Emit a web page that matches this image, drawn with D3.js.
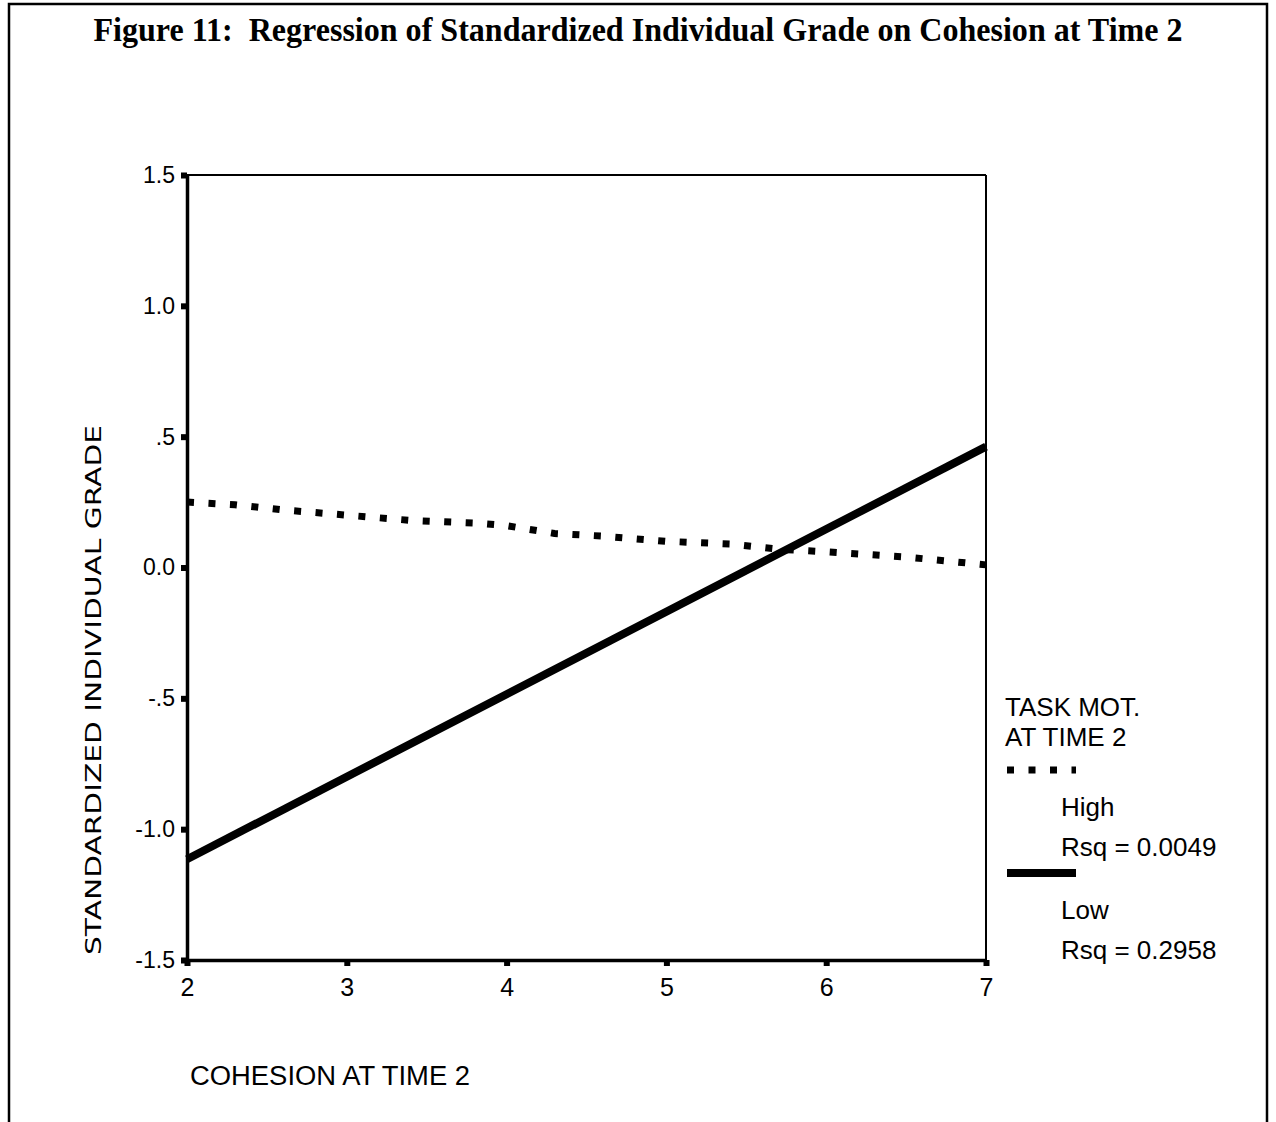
<!doctype html>
<html lang="en">
<head>
    <meta charset="UTF-8">
    <title>Figure 11</title>
    <style>
        body { margin: 0; background: #fff; }
        text { font-family: "Liberation Sans", Arial, sans-serif; fill: #000; }
    </style>
</head>
<body>
<script src="https://cdn.jsdelivr.net/npm/d3@7"></script>
<script>

    // data
    const xTicks = [2, 3, 4, 5, 6, 7]
    const yTicks = [1.5, 1.0, 0.5, 0.0, -0.5, -1.0, -1.5]
    const yTickLabels = ['1.5', '1.0', '.5', '0.0', '-.5', '-1.0', '-1.5']

    // High task motivation (dotted)
    const highX = [2, 2.3, 2.6, 3, 3.4, 3.8, 4, 4.3, 4.6, 5, 5.4, 5.7, 6, 6.5, 7]
    const highY = [0.25, 0.24, 0.22, 0.2, 0.18, 0.17, 0.16, 0.13, 0.12, 0.1, 0.09, 0.07, 0.06, 0.04, 0.01]

    // Low task motivation (solid)
    const lowX = [2, 7]
    const lowY = [-1.115, 0.462]

    const legendTitle = ['TASK MOT.', 'AT TIME 2']
    const legendItems = [
        {name: 'High', rsq: 'Rsq = 0.0049', dotted: true},
        {name: 'Low', rsq: 'Rsq = 0.2958', dotted: false}
    ]

    const W = 1276, H = 1122
    const plot = {left: 187, right: 986, top: 175, bottom: 960}

    const svg = d3.select('body')
        .append('svg')
        .attr('width', W)
        .attr('height', H)

    // outer frame (open at the bottom)
    svg.append('path')
        .attr('d', `M9,${H} L9,4 L1267,4 L1267,${H}`)
        .attr('fill', 'none')
        .attr('stroke', '#000')
        .attr('stroke-width', 2.5)

    svg.append('text')
        .attr('x', 638)
        .attr('y', 41)
        .attr('text-anchor', 'middle')
        .attr('textLength', 1089)
        .attr('lengthAdjust', 'spacingAndGlyphs')
        .attr('xml:space', 'preserve')
        .style('font-family', '"Liberation Serif", "Times New Roman", serif')
        .style('font-weight', 'bold')
        .style('font-size', '33px')
        .text('Figure 11:  Regression of Standardized Individual Grade on Cohesion at Time 2')

    const x = d3.scaleLinear().domain([2, 7]).range([plot.left, plot.right])
    const y = d3.scaleLinear().domain([-1.5, 1.5]).range([plot.bottom, plot.top])

    // plot frame: top/right thin, left/bottom thick
    svg.append('line')
        .attr('x1', plot.left).attr('x2', plot.right)
        .attr('y1', plot.top).attr('y2', plot.top)
        .attr('stroke', '#000').attr('stroke-width', 2)
    svg.append('line')
        .attr('x1', plot.right).attr('x2', plot.right)
        .attr('y1', plot.top).attr('y2', plot.bottom)
        .attr('stroke', '#000').attr('stroke-width', 2)

    // y axis
    const yAxis = svg.append('g')
        .attr('transform', `translate(${plot.left},0)`)
        .call(d3.axisLeft(y).tickValues(yTicks).tickSize(0).tickPadding(12)
            .tickFormat((d, i) => yTickLabels[i]))
    yAxis.select('.domain').attr('stroke-width', 3.5)
    yAxis.selectAll('text')
        .style('font-family', '"Liberation Sans", Arial, sans-serif')
        .style('font-size', '23px')
    yAxis.selectAll('.tick').append('rect')
        .attr('x', -6).attr('y', -3).attr('width', 6).attr('height', 6)
        .attr('fill', '#000')

    // x axis
    const xAxis = svg.append('g')
        .attr('transform', `translate(0,${plot.bottom})`)
        .call(d3.axisBottom(x).tickValues(xTicks).tickSize(0).tickPadding(18)
            .tickFormat(d3.format('d')))
    xAxis.select('.domain').attr('stroke-width', 3.5)
    xAxis.selectAll('text')
        .style('font-family', '"Liberation Sans", Arial, sans-serif')
        .style('font-size', '25px')
    xAxis.selectAll('.tick').append('rect')
        .attr('x', -3).attr('y', 0).attr('width', 6).attr('height', 6)
        .attr('fill', '#000')

    // axis titles
    svg.append('text')
        .attr('transform', `translate(101,${(425 + 955) / 2}) rotate(-90)`)
        .attr('text-anchor', 'middle')
        .attr('textLength', 530)
        .attr('lengthAdjust', 'spacingAndGlyphs')
        .style('font-family', '"DejaVu Sans", sans-serif')
        .style('font-size', '21px')
        .text('STANDARDIZED INDIVIDUAL GRADE')

    svg.append('text')
        .attr('x', 190)
        .attr('y', 1085)
        .attr('textLength', 280)
        .attr('lengthAdjust', 'spacingAndGlyphs')
        .style('font-size', '27px')
        .text('COHESION AT TIME 2')

    const lineGen = d3.line().x(d => x(d[0])).y(d => y(d[1]))

    svg.append('path')
        .datum(d3.zip(highX, highY))
        .attr('d', lineGen)
        .attr('fill', 'none')
        .attr('stroke', '#000')
        .attr('stroke-width', 7)
        .attr('stroke-dasharray', '7,14.5')

    svg.append('path')
        .datum(d3.zip(lowX, lowY))
        .attr('d', lineGen)
        .attr('fill', 'none')
        .attr('stroke', '#000')
        .attr('stroke-width', 8)

    // legend
    const lg = svg.append('g')
    legendTitle.forEach((t, i) => {
        lg.append('text')
            .attr('x', 1005)
            .attr('y', 716 + i * 30)
            .style('font-size', '26px')
            .text(t)
    })
    legendItems.forEach((d, i) => {
        const y0 = 770 + i * 103
        lg.append('line')
            .attr('x1', 1007).attr('x2', 1076)
            .attr('y1', y0).attr('y2', y0)
            .attr('stroke', '#000')
            .attr('stroke-width', d.dotted ? 7 : 8)
            .attr('stroke-dasharray', d.dotted ? '7,14.5' : null)
        lg.append('text')
            .attr('x', 1061).attr('y', y0 + 46)
            .style('font-size', '26px')
            .text(d.name)
        lg.append('text')
            .attr('x', 1061).attr('y', y0 + 86)
            .style('font-size', '26px')
            .text(d.rsq)
    })

</script>
</body>
</html>
